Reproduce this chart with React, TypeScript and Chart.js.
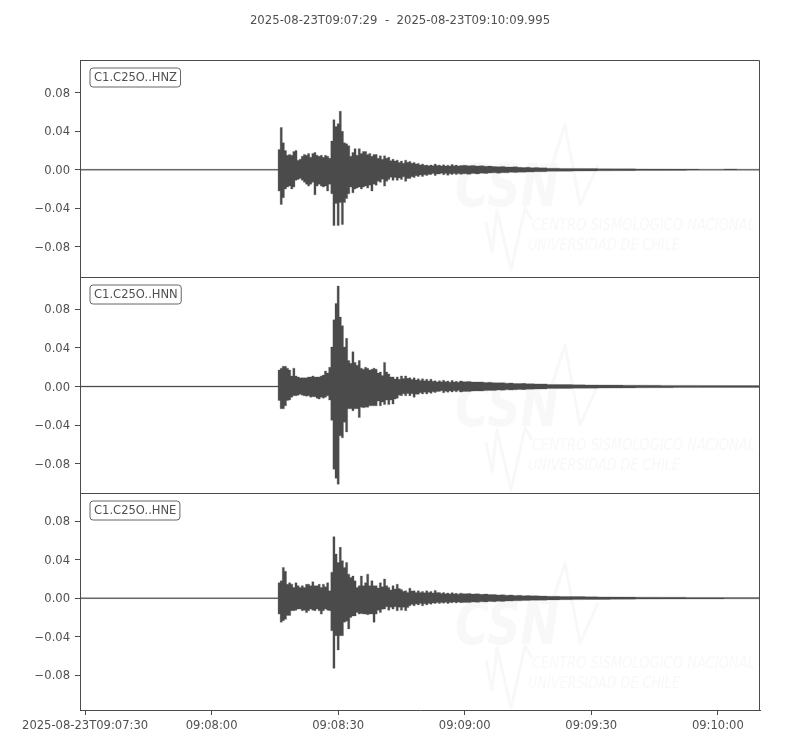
import { useEffect, useRef } from "react"
import { Chart, registerables } from "chart.js"

Chart.register(...registerables)

const INK = "#4b4b4b"
const TEXT = "#505050"
const FONT = "'DejaVu Sans'"
const FONT_SIZE = 11.55
const TITLE = "2025-08-23T09:07:29  -  2025-08-23T09:10:09.995"

// seconds after 09:07:29
const END_SECONDS = 160.995
const tickSeconds = [1, 31, 61, 91, 121, 151]
const tickLabels = ["2025-08-23T09:07:30", "09:08:00", "09:08:30", "09:09:00", "09:09:30", "09:10:00"]
const yTicks = [-0.08, -0.04, 0, 0.04, 0.08]

const times = [
  0, 46.5,
  47, 47.5, 48, 48.5, 49, 49.5, 50, 50.5, 51, 51.5,
  52, 52.5, 53, 53.5, 54, 54.5, 55, 55.5, 56, 56.5,
  57, 57.5, 58, 58.5, 59, 59.5,
  60, 60.5, 61, 61.5, 62, 62.5, 63, 63.5, 64, 64.5,
  65, 65.5, 66, 66.5, 67, 67.5, 68, 68.5, 69, 69.5,
  70, 70.5, 71, 71.5, 72, 72.5, 73, 73.5, 74, 74.5,
  75, 75.5, 76, 76.5, 77, 77.5, 78, 78.5, 79, 79.5,
  80, 80.5, 81, 81.5, 82, 82.5, 83, 83.5, 84, 84.5,
  85, 85.5, 86, 86.5, 87, 87.5, 88, 88.5, 89, 89.5,
  90, 91, 92, 93, 94, 95, 96, 97, 98, 99,
  100, 101, 102, 103, 104, 105, 106, 107, 108, 109,
  112, 115, 118, 121, 124, 127, 130, 133, 136, 139,
  142, 145, 148, 151, 154, 157, 160, 161,
]

const hnzUpper = [
  0.0005, 0.0005,
  0.021, 0.044, 0.028, 0.02, 0.015, 0.016, 0.015, 0.019, 0.02, 0.01,
  0.011, 0.014, 0.016, 0.015, 0.017, 0.013, 0.017, 0.018, 0.015, 0.014,
  0.015, 0.013, 0.015, 0.014, 0.012, 0.03,
  0.052, 0.045, 0.048, 0.061, 0.04, 0.028, 0.027, 0.025, 0.014, 0.018,
  0.022, 0.015, 0.022, 0.017, 0.019, 0.019, 0.016, 0.017, 0.014, 0.016,
  0.016, 0.012, 0.0145, 0.011, 0.0145, 0.012, 0.013, 0.0095, 0.011, 0.009,
  0.01, 0.0075, 0.009, 0.0068, 0.01, 0.0078, 0.0087, 0.0068, 0.0076, 0.006,
  0.0066, 0.005, 0.006, 0.0046, 0.005, 0.0042, 0.005, 0.0043, 0.006, 0.0044,
  0.005, 0.004, 0.0052, 0.0038, 0.0048, 0.0039, 0.0055, 0.0042, 0.005, 0.0038,
  0.0045, 0.0048, 0.0042, 0.0045, 0.004, 0.0042, 0.0036, 0.0038, 0.0034, 0.0032,
  0.0035, 0.003, 0.0028, 0.0031, 0.0026, 0.0024, 0.0026, 0.0022, 0.0024, 0.002,
  0.0016, 0.0014, 0.0014, 0.0012, 0.0011, 0.001, 0.001, 0.0009, 0.0008, 0.0008,
  0.0007, 0.0007, 0.0006, 0.0006, 0.0009, 0.0006, 0.0006, 0.0006,
]
const hnzLower = [
  -0.0005, -0.0005,
  -0.022, -0.036, -0.029, -0.02, -0.018, -0.017, -0.02, -0.018, -0.011, -0.01,
  -0.009, -0.011, -0.013, -0.015, -0.017, -0.015, -0.013, -0.026, -0.017, -0.015,
  -0.017, -0.018, -0.017, -0.022, -0.015, -0.025,
  -0.058, -0.035, -0.058, -0.034, -0.057, -0.034, -0.03, -0.025, -0.018, -0.024,
  -0.02, -0.019, -0.018, -0.02, -0.018, -0.017, -0.019, -0.016, -0.022, -0.015,
  -0.016, -0.012, -0.013, -0.0098, -0.017, -0.012, -0.01, -0.0078, -0.011, -0.008,
  -0.011, -0.0085, -0.01, -0.0072, -0.012, -0.009, -0.009, -0.0072, -0.008, -0.0062,
  -0.007, -0.0054, -0.007, -0.0052, -0.006, -0.0048, -0.005, -0.004, -0.006, -0.0045,
  -0.0045, -0.0036, -0.0052, -0.004, -0.0056, -0.0042, -0.0048, -0.0038, -0.005, -0.0039,
  -0.0046, -0.0042, -0.0047, -0.004, -0.0043, -0.0036, -0.0039, -0.0034, -0.0032, -0.0035,
  -0.003, -0.0032, -0.0027, -0.0029, -0.0025, -0.0026, -0.0023, -0.0024, -0.002, -0.0021,
  -0.0016, -0.0015, -0.0013, -0.0012, -0.0011, -0.001, -0.0009, -0.0008, -0.0008, -0.0007,
  -0.0007, -0.0006, -0.0006, -0.0006, -0.0006, -0.0006, -0.0006, -0.0006,
]

const hnnUpper = [
  0.0005, 0.0005,
  0.017, 0.019, 0.021, 0.021, 0.019, 0.017, 0.011, 0.019, 0.011, 0.01,
  0.009, 0.009, 0.009, 0.009, 0.01, 0.01, 0.011, 0.01, 0.01, 0.01,
  0.011, 0.012, 0.016, 0.014, 0.02, 0.041,
  0.069, 0.086, 0.104, 0.072, 0.063, 0.041, 0.05, 0.027, 0.024, 0.036,
  0.025, 0.022, 0.027, 0.019, 0.018, 0.02, 0.019, 0.017, 0.018, 0.019,
  0.018, 0.014, 0.015, 0.0115, 0.025, 0.015, 0.013, 0.01, 0.01, 0.0078,
  0.01, 0.0075, 0.011, 0.0082, 0.011, 0.0085, 0.009, 0.0072, 0.009, 0.0068,
  0.008, 0.0062, 0.008, 0.006, 0.0076, 0.0058, 0.0076, 0.0055, 0.006, 0.0048,
  0.006, 0.005, 0.0066, 0.005, 0.0058, 0.0045, 0.0062, 0.0047, 0.0055, 0.0044,
  0.0058, 0.005, 0.0052, 0.0048, 0.0046, 0.0048, 0.0042, 0.0044, 0.004, 0.0038,
  0.004, 0.0034, 0.0036, 0.0032, 0.0031, 0.0033, 0.0028, 0.0029, 0.0026, 0.0027,
  0.0021, 0.002, 0.0018, 0.0017, 0.0016, 0.0015, 0.0014, 0.0014, 0.0013, 0.0012,
  0.0012, 0.0012, 0.0011, 0.0011, 0.001, 0.001, 0.001, 0.001,
]
const hnnLower = [
  -0.0005, -0.0005,
  -0.0145, -0.023, -0.023, -0.02, -0.0145, -0.014, -0.011, -0.0095, -0.0095, -0.009,
  -0.008, -0.009, -0.0095, -0.01, -0.0095, -0.011, -0.0105, -0.0105, -0.012, -0.013,
  -0.011, -0.012, -0.011, -0.0095, -0.014, -0.035,
  -0.0855, -0.095, -0.101, -0.051, -0.053, -0.037, -0.047, -0.023, -0.023, -0.025,
  -0.023, -0.023, -0.032, -0.0215, -0.022, -0.0215, -0.0215, -0.02, -0.02, -0.02,
  -0.02, -0.015, -0.02, -0.016, -0.0187, -0.014, -0.0187, -0.014, -0.018, -0.013,
  -0.012, -0.009, -0.0095, -0.0075, -0.0095, -0.0072, -0.0095, -0.0075, -0.011, -0.008,
  -0.008, -0.0063, -0.0076, -0.006, -0.0076, -0.0058, -0.007, -0.0055, -0.0062, -0.005,
  -0.005, -0.0044, -0.0064, -0.0048, -0.0058, -0.0045, -0.0056, -0.0044, -0.0054, -0.0042,
  -0.0057, -0.005, -0.0052, -0.0047, -0.0045, -0.0047, -0.0042, -0.004, -0.0042, -0.0037,
  -0.0038, -0.0034, -0.0035, -0.0032, -0.0031, -0.0032, -0.0028, -0.0027, -0.0026, -0.0025,
  -0.0021, -0.002, -0.0018, -0.0017, -0.0016, -0.0015, -0.0014, -0.0013, -0.0012, -0.0012,
  -0.0011, -0.0011, -0.001, -0.001, -0.001, -0.001, -0.001, -0.001,
]

const hneUpper = [
  0.0005, 0.0005,
  0.016, 0.018, 0.032, 0.028, 0.0145, 0.016, 0.0145, 0.011, 0.016, 0.013,
  0.011, 0.013, 0.011, 0.0145, 0.0145, 0.013, 0.017, 0.013, 0.013, 0.0145,
  0.011, 0.0145, 0.012, 0.016, 0.0076, 0.027,
  0.064, 0.046, 0.037, 0.053, 0.039, 0.032, 0.037, 0.025, 0.0215, 0.023,
  0.018, 0.011, 0.013, 0.023, 0.013, 0.016, 0.025, 0.013, 0.018, 0.013,
  0.013, 0.0105, 0.016, 0.012, 0.02, 0.013, 0.011, 0.0085, 0.013, 0.0095,
  0.0145, 0.01, 0.009, 0.0072, 0.0076, 0.006, 0.0104, 0.0075, 0.0076, 0.006,
  0.0076, 0.006, 0.007, 0.0056, 0.0076, 0.0058, 0.007, 0.0054, 0.008, 0.006,
  0.006, 0.0048, 0.0058, 0.0045, 0.0054, 0.0044, 0.0057, 0.0045, 0.005, 0.0041,
  0.0052, 0.0046, 0.0048, 0.0043, 0.0045, 0.004, 0.0042, 0.0037, 0.0039, 0.0034,
  0.0036, 0.0031, 0.0033, 0.0028, 0.003, 0.0026, 0.0027, 0.0024, 0.0025, 0.0022,
  0.0019, 0.0017, 0.0016, 0.0014, 0.0013, 0.0012, 0.0011, 0.001, 0.001, 0.0009,
  0.0009, 0.0008, 0.0008, 0.0008, 0.0007, 0.0007, 0.0007, 0.0007,
]
const hneLower = [
  -0.0005, -0.0005,
  -0.0166, -0.025, -0.0235, -0.022, -0.018, -0.018, -0.013, -0.013, -0.0125, -0.0114,
  -0.0114, -0.013, -0.0125, -0.015, -0.013, -0.0114, -0.0125, -0.013, -0.0114, -0.013,
  -0.0166, -0.013, -0.0114, -0.0125, -0.013, -0.034,
  -0.073, -0.039, -0.054, -0.039, -0.039, -0.025, -0.024, -0.032, -0.02, -0.0185,
  -0.0185, -0.015, -0.0166, -0.016, -0.0166, -0.0166, -0.0173, -0.0166, -0.0166, -0.025,
  -0.0166, -0.0125, -0.015, -0.0115, -0.0114, -0.009, -0.0125, -0.0095, -0.0114, -0.009,
  -0.013, -0.0095, -0.0125, -0.0095, -0.013, -0.0098, -0.008, -0.0065, -0.008, -0.0062,
  -0.007, -0.0056, -0.008, -0.0058, -0.007, -0.0055, -0.0063, -0.005, -0.0055, -0.0045,
  -0.0055, -0.0044, -0.0052, -0.0042, -0.0056, -0.0044, -0.0049, -0.004, -0.005, -0.004,
  -0.0047, -0.0044, -0.0046, -0.0041, -0.0043, -0.0038, -0.0039, -0.0036, -0.0037, -0.0032,
  -0.0034, -0.003, -0.003, -0.0027, -0.0028, -0.0025, -0.0025, -0.0023, -0.0023, -0.0021,
  -0.0018, -0.0016, -0.0015, -0.0014, -0.0013, -0.0012, -0.0011, -0.001, -0.001, -0.0009,
  -0.0009, -0.0008, -0.0008, -0.0008, -0.0007, -0.0007, -0.0007, -0.0007,
]

const traceIds = ["C1.C25O..HNZ", "C1.C25O..HNN", "C1.C25O..HNE"]
const traceAxes = ["yZ", "yN", "yE"]
const traces = [
  [hnzUpper, hnzLower],
  [hnnUpper, hnnLower],
  [hneUpper, hneLower],
]

// faint CSN logo stamped into each panel, offsets from the panel top
const logoOffsets = [60, 280, 498]
const logoWave = [[486, 162], [492, 192], [497, 150], [511, 210], [525, 148], [532, 160]]
const logoPeak = [[540, 105], [552, 105], [565, 65], [580, 145], [598, 105]]

const makeDatasets = () =>
  traces.flatMap(([upper, lower], i) => {
    const common = {
      yAxisID: traceAxes[i],
      borderColor: INK,
      backgroundColor: INK,
      borderWidth: 0.3,
      pointRadius: 0,
      stepped: "middle" as const,
    }
    return [
      { ...common, label: traceIds[i], data: times.map((t, k) => ({ x: t, y: upper[k] })), fill: "+1" },
      { ...common, label: traceIds[i] + " min", data: times.map((t, k) => ({ x: t, y: lower[k] })), fill: false },
    ]
  })

const yAxis = (min: number, max: number) => ({
  type: "linear" as const,
  position: "left" as const,
  stack: "traces",
  stackWeight: 1,
  min,
  max,
  afterFit: (scale: any) => {
    scale.width = 80
  },
  afterBuildTicks: (scale: any) => {
    scale.ticks = yTicks.map((value) => ({ value }))
  },
  border: { color: INK },
  grid: { drawOnChartArea: false, tickLength: 5, tickColor: INK },
  ticks: {
    color: TEXT,
    padding: 5,
    labelOffset: 1,
    font: { family: FONT, size: FONT_SIZE },
    callback: (v: any) => (v < 0 ? "\u2212" : "") + Math.abs(Number(v)).toFixed(2),
  },
})

const panelFrames = {
  id: "panelFrames",
  beforeDatasetsDraw(chart: any) {
    const { ctx, chartArea } = chart
    ctx.save()
    ctx.beginPath()
    ctx.rect(chartArea.left + 1, chartArea.top + 1, chartArea.width - 2, chartArea.height - 2)
    ctx.clip()
    ctx.fillStyle = "#f8f8f8"
    ctx.strokeStyle = "#f8f8f8"
    ctx.lineJoin = "round"
    ctx.textBaseline = "alphabetic"
    logoOffsets.forEach((top) => {
      ctx.font = `italic bold 58px ${FONT}`
      ctx.fillText("CSN", 455, top + 146, 104)
      ctx.font = `italic 16px ${FONT}`
      ctx.fillText("CENTRO SISMOL\u00d3GICO NACIONAL", 532, top + 170, 223)
      ctx.fillText("UNIVERSIDAD DE CHILE", 528, top + 190, 152)
      ctx.lineWidth = 3
      for (const path of [logoWave, logoPeak]) {
        ctx.beginPath()
        path.forEach(([x, y], k) => (k ? ctx.lineTo(x, top + y) : ctx.moveTo(x, top + y)))
        ctx.stroke()
      }
    })
    ctx.restore()
  },
  afterDraw(chart: any) {
    const { ctx, chartArea } = chart
    const left = Math.round(chartArea.left) + 0.5
    const right = Math.round(chartArea.right) - 0.5
    ctx.save()
    ctx.lineWidth = 1
    ctx.strokeStyle = INK
    ctx.beginPath()
    ctx.moveTo(right, Math.round(chartArea.top) + 0.5)
    ctx.lineTo(right, Math.round(chartArea.bottom))
    traceAxes.forEach((axisId) => {
      const y = Math.round(chart.scales[axisId].top) + 0.5
      ctx.moveTo(left, y)
      ctx.lineTo(right, y)
    })
    ctx.stroke()

    ctx.fillStyle = TEXT
    ctx.textBaseline = "middle"
    ctx.textAlign = "center"
    ctx.font = `11.7px ${FONT}`
    ctx.fillText(TITLE, chart.width / 2, 21)
    ctx.textAlign = "left"
    ctx.font = `${FONT_SIZE}px ${FONT}`

    traceAxes.forEach((axisId, i) => {
      const top = Math.round(chart.scales[axisId].top) + 0.5
      const w = ctx.measureText(traceIds[i]).width
      ctx.beginPath()
      ctx.roundRect(left + 9.5, top + 7.5, w + 7.5, 19, 3)
      ctx.fillStyle = "#ffffff"
      ctx.fill()
      ctx.strokeStyle = "#666666"
      ctx.stroke()
      ctx.fillStyle = TEXT
      ctx.fillText(traceIds[i], left + 13.5, top + 17.5)
    })
    ctx.restore()
  },
}

export default function App() {
  const chartRef = useRef<HTMLCanvasElement>(null)

  useEffect(() => {
    if (!chartRef.current) return
    const chart = new Chart(chartRef.current, {
      type: "line",
      data: { datasets: makeDatasets() as any },
      plugins: [panelFrames],
      options: {
        animation: false,
        responsive: false,
        devicePixelRatio: 1,
        layout: { padding: { right: 40, left: 0, bottom: 0, top: 60 } },
        plugins: {
          legend: { display: false },
          tooltip: { enabled: false },
        },
        scales: {
          x: {
            type: "linear",
            min: -0.2,
            max: END_SECONDS,
            afterFit: (scale: any) => {
              scale.height = 40
            },
            afterBuildTicks: (scale: any) => {
              scale.ticks = tickSeconds.map((value) => ({ value }))
            },
            border: { color: INK },
            grid: { drawOnChartArea: false, tickLength: 5, tickColor: INK },
            ticks: {
              color: TEXT,
              padding: 4,
              maxRotation: 0,
              autoSkip: false,
              font: { family: FONT, size: FONT_SIZE },
              callback: (v: any) => tickLabels[tickSeconds.indexOf(Number(v))],
            },
          },
          // stacked axes are laid out bottom-up, so HNE comes first
          yE: yAxis(-0.1164, 0.1091),
          yN: yAxis(-0.1105, 0.1137),
          yZ: yAxis(-0.1112, 0.1142),
        },
      },
    })
    return () => chart.destroy()
  }, [])

  return (
    <div style={{ position: "fixed", left: 0, top: 0, width: 800, height: 750, background: "#fff" }}>
      <canvas ref={chartRef} width={800} height={750} />
    </div>
  )
}
